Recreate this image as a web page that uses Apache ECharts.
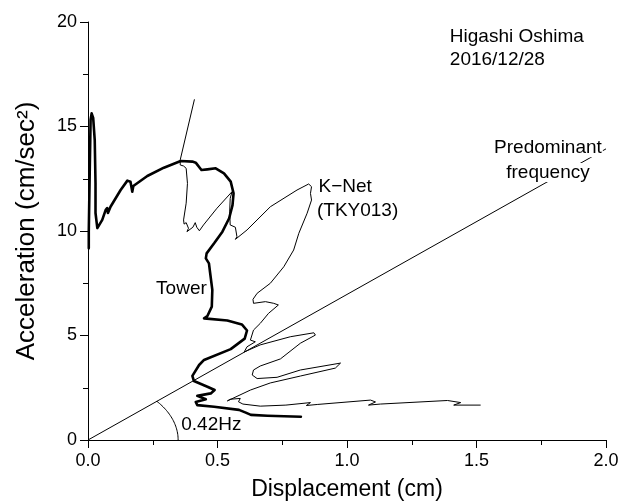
<!DOCTYPE html>
<html>
<head>
<meta charset="utf-8">
<script src="https://cdn.jsdelivr.net/npm/echarts@6/dist/echarts.min.js"></script>
<style>
html,body{margin:0;padding:0;background:#fff}
#chart{width:624px;height:501px}
</style>
</head>
<body>
<div id="chart"></div>
<script>
// Tower top: displacement (cm) vs acceleration (cm/sec²)
const towerDisp = [0.003,0.003,0.007,0.010,0.014,0.020,0.026,0.029,0.029,0.036,0.042,0.055,0.068,0.074,0.077,0.087,0.126,0.152,0.164,0.171,0.175,0.229,0.293,0.358,0.403,0.416,0.438,0.461,0.493,0.525,0.551,0.562,0.558,0.545,0.519,0.487,0.458,0.455,0.467,0.471,0.480,0.478,0.461,0.448,0.538,0.594,0.614,0.605,0.551,0.448,0.429,0.403,0.409,0.461,0.489,0.474,0.422,0.455,0.416,0.422,0.487,0.583,0.609,0.629,0.693,0.822];
const towerAcc  = [9.17,9.97,13.08,15.31,15.63,15.41,14.35,12.30,10.86,10.14,10.14,10.53,11.00,11.10,10.86,11.16,11.96,12.41,12.36,11.88,12.15,12.63,13.03,13.35,13.32,13.27,12.92,12.95,13.00,12.76,12.36,11.80,11.24,10.61,9.97,9.41,8.93,8.69,8.45,8.05,7.18,6.38,5.93,5.82,5.72,5.53,5.24,4.85,4.35,3.83,3.59,3.07,2.82,2.55,2.39,2.23,2.11,1.95,1.82,1.67,1.59,1.44,1.31,1.20,1.16,1.11];

// K-NET station TKY013 ground record
const knetDisp = [0.411,0.356,0.356,0.369,0.379,0.384,0.379,0.369,0.371,0.379,0.388,0.382,0.405,0.414,0.420,0.430,0.446,0.498,0.556,0.549,0.547,0.549,0.569,0.575,0.569,0.614,0.704,0.807,0.852,0.863,0.859,0.863,0.846,0.814,0.794,0.756,0.704,0.653,0.637,0.639,0.685,0.717,0.735,0.697,0.665,0.639,0.627,0.646,0.614,0.603,0.665,0.781,0.872,0.878,0.820,0.743,0.665,0.639,0.634,0.653,0.730,0.820,0.975,0.955,0.820,0.704,0.627,0.538,0.550,0.588,0.581,0.598,0.665,0.764,0.859,0.843,0.885,1.091,1.110,1.083,1.129,1.388,1.439,1.412,1.516];
const knetAcc  = [16.30,13.40,13.16,13.11,13.00,12.28,11.33,10.53,10.33,10.40,10.13,9.97,10.18,10.40,10.18,10.01,10.29,11.09,11.88,11.56,10.92,10.29,10.18,9.73,9.60,10.05,11.16,11.96,12.25,12.12,11.80,11.48,10.85,9.89,9.09,8.29,7.50,7.02,6.73,6.54,6.62,6.54,6.46,6.06,5.58,5.26,4.78,4.70,4.46,4.21,4.55,4.94,5.13,5.02,4.63,3.88,3.54,3.35,3.11,2.94,3.00,3.35,3.68,3.44,3.06,2.73,2.39,1.87,1.95,1.99,1.83,1.72,1.62,1.67,1.79,1.65,1.70,1.91,1.82,1.67,1.72,1.89,1.79,1.67,1.67];

// Predominant frequency line (0.42 Hz)
const predDisp = [0, 2.0];
const predAcc  = [0, 13.93];

// Axis ticks
const xTickLabels = ['0.0', '0.5', '1.0', '1.5', '2.0'];
const yTickLabels = ['0', '5', '10', '15', '20'];

const pairs = (xs, ys) => xs.map((x, i) => [x, ys[i]]);

const FONT = '"Liberation Sans", Arial, sans-serif';
const chart = echarts.init(document.getElementById('chart'), null, {renderer: 'canvas'});

const axisCommon = {
  type: 'value',
  axisLine: {onZero: false, lineStyle: {color: '#000', width: 1}},
  axisTick: {show: true, inside: false, length: 8, lineStyle: {color: '#000'}},
  minorTick: {show: true, splitNumber: 2, length: 5, lineStyle: {color: '#000'}},
  splitLine: {show: false},
  minorSplitLine: {show: false},
  axisLabel: {color: '#000', fontFamily: FONT, fontSize: 18}
};

chart.setOption({
  animation: false,
  backgroundColor: '#fff',
  grid: {left: 88, right: 18, top: 22, bottom: 61, containLabel: false, outerBoundsMode: 'none'},
  xAxis: Object.assign({}, axisCommon, {
    min: 0, max: 2, interval: 0.5,
    name: 'Displacement (cm)', nameLocation: 'middle', nameGap: 38,
    nameTextStyle: {color: '#000', fontFamily: FONT, fontSize: 23},
    axisLabel: Object.assign({}, axisCommon.axisLabel, {
      margin: 12,
      formatter: v => xTickLabels[Math.round(v / 0.5)]
    })
  }),
  yAxis: Object.assign({}, axisCommon, {
    min: 0, max: 20, interval: 5,
    name: 'Acceleration (cm/sec²)', nameLocation: 'middle', nameGap: 48,
    nameTextStyle: {color: '#000', fontFamily: FONT, fontSize: 26},
    axisLabel: Object.assign({}, axisCommon.axisLabel, {
      margin: 11,
      formatter: v => yTickLabels[Math.round(v / 5)]
    })
  }),
  series: [
    {
      name: 'Predominant frequency', type: 'line', data: pairs(predDisp, predAcc),
      showSymbol: false, lineStyle: {color: '#000', width: 1}, z: 1
    },
    {
      name: 'K-Net', type: 'line', data: pairs(knetDisp, knetAcc),
      showSymbol: false, lineStyle: {color: '#000', width: 1}, z: 2
    },
    {
      name: 'Tower', type: 'line', data: pairs(towerDisp, towerAcc),
      showSymbol: false, lineStyle: {color: '#000', width: 2.6, join: 'round', cap: 'round'}, z: 3
    }
  ]
});

// Annotations anchored in data coordinates
function px(pt) { return chart.convertToPixel({gridIndex: 0}, pt); }

function label(text, pt, align, extra) {
  const p = px(pt);
  return {
    type: 'text', x: p[0], y: p[1], z: 10,
    style: Object.assign({
      text: text, fill: '#000', font: '19px ' + FONT,
      align: align, verticalAlign: 'middle'
    }, extra || {})
  };
}

// Angle arc between the x axis and the predominant frequency line
const arcRadiusX = 0.348, arcRadiusY = 2.87;
const o = px([0, 0]);
const rx = px([arcRadiusX, 0])[0] - o[0];
const ry = o[1] - px([0, arcRadiusY])[1];
const endAngle = Math.atan((predAcc[1] / predDisp[1]) * arcRadiusX / arcRadiusY);
const arcPts = [];
for (let i = 0; i <= 30; i++) {
  const t = endAngle * i / 30;
  arcPts.push([o[0] + rx * Math.cos(t), o[1] - ry * Math.sin(t)]);
}

const bg = {backgroundColor: '#fff', padding: [0, 1]};

chart.setOption({
  graphic: [
    {type: 'polyline', shape: {points: arcPts}, style: {stroke: '#000', lineWidth: 1, fill: null}, z: 5},
    label('Higashi Oshima', [1.397, 19.28], 'left'),
    label('2016/12/28', [1.397, 18.18], 'left'),
    label('Predominant', [1.776, 13.98], 'center', bg),
    label('frequency', [1.776, 12.80], 'center', bg),
    label('K\u2212Net', [0.890, 12.10], 'left'),
    label('(TKY013)', [0.884, 10.96], 'left'),
    label('Tower', [0.263, 7.22], 'left'),
    label('0.42Hz', [0.360, 0.72], 'left')
  ]
});
</script>
</body>
</html>
